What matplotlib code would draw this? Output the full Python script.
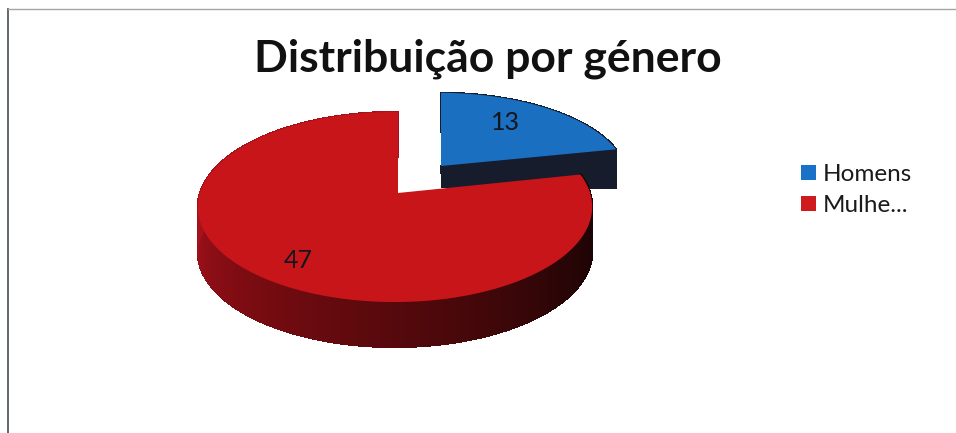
import numpy as np
import matplotlib
matplotlib.use("Agg")
import matplotlib.pyplot as plt
from matplotlib.collections import PolyCollection
from matplotlib.patches import Patch

categories = ["Homens", "Mulhe..."]
values = [13, 47]
title = "Distribuição por género"

top_colors = ["#1a6fc0", "#c8151a"]
legend_colors = ["#1a72c8", "#cf1a1e"]

plt.rcParams["font.family"] = ["Lato", "DejaVu Sans"]
W, H = 956, 433
fig = plt.figure(figsize=(W / 100, H / 100), dpi=100, facecolor="white")
ax = fig.add_axes([7.5 / W, 0, 1 - 7.5 / W, 1 - 8.5 / H])
ax.set_xlim(7.5, W)
ax.set_ylim(H, 8.5)
ax.set_xticks([])
ax.set_yticks([])
for s in ("right", "bottom"):
    ax.spines[s].set_visible(False)
ax.spines["left"].set_color("#555a60")
ax.spines["left"].set_linewidth(1.3)
ax.spines["top"].set_color("#a5a5a5")
ax.spines["top"].set_linewidth(1.0)

# slice geometry in figure pixels: apex, radii, depth
geom = [
    dict(ax=441.0, ay=166.0, A=187.0, B=84.0, depth=39.0),
    dict(ax=398.0, ay=193.0, A=195.0, B=93.0, depth=45.0),
]
C, D = 0.147, 0.015


def project(g, r, theta):
    u, v = r * np.sin(theta), r * np.cos(theta)
    den = 1 + C * v + D * u
    return g["ax"] + g["A"] * u / den, g["ay"] - g["B"] * v / den


def side_color(i, theta):
    deg = np.degrees(theta) % 360
    if i == 0:
        return np.array([0.085, 0.11, 0.17])
    stops_x = [90, 130, 180, 225, 270, 360]
    r = np.interp(deg, stops_x, [22, 42, 85, 125, 165, 165])
    g = np.interp(deg, stops_x, [3, 5, 9, 12, 18, 18])
    b = np.interp(deg, stops_x, [4, 6, 12, 18, 28, 28])
    return np.array([r, g, b]) / 255


fractions = np.array(values, dtype=float) / sum(values)
edges = np.concatenate([[0], np.cumsum(fractions)]) * 2 * np.pi

for i, g in enumerate(geom):
    t = np.linspace(edges[i], edges[i + 1], 900 if i else 200)
    x, y = project(g, 1.0, t)
    quads, cols = [], []
    if i == 0:
        # front radial cut of the slice
        xe, ye = project(g, np.array([0.0, 1.0]), np.array([t[-1], t[-1]]))
        quads.append([(xe[0], ye[0]), (xe[1], ye[1]),
                      (xe[1] - 1.5, ye[1] + g["depth"]), (xe[0] + 1.5, ye[0] + g["depth"] - 18)])
        cols.append(side_color(0, t[-1]))
    for k in range(len(t) - 1):
        quads.append([(x[k], y[k]), (x[k + 1], y[k + 1]),
                      (x[k + 1], y[k + 1] + g["depth"]), (x[k], y[k] + g["depth"])])
        cols.append(side_color(i, t[k]))
    ax.add_collection(PolyCollection(quads, facecolors=cols, edgecolors=cols, linewidths=0.8,
                                     antialiaseds=False, zorder=2 + i * 2))
    ax.fill(np.r_[g["ax"], x], np.r_[g["ay"], y], color=top_colors[i], lw=0, zorder=3 + i * 2)

for val, (px, py) in zip(values, [(505, 122), (298, 261)]):
    ax.text(px, py, str(val), ha="center", va="center", fontsize=18, color="#15151c", zorder=8)

ax.text(487.5, 59, title, ha="center", va="center", fontsize=32, fontweight="bold", color="#111111")

handles = [Patch(facecolor=c, edgecolor="none") for c in legend_colors]
ax.legend(handles, categories, loc="upper left", bbox_to_anchor=(801 / W, 1 - 164 / H),
          bbox_transform=fig.transFigure, frameon=False, fontsize=17.5, handlelength=0.6,
          handleheight=0.6, handletextpad=0.3, labelspacing=0.42, labelcolor="#1a1a1a",
          borderpad=0, borderaxespad=0)

fig.savefig("out.png", dpi=100, facecolor="white")
